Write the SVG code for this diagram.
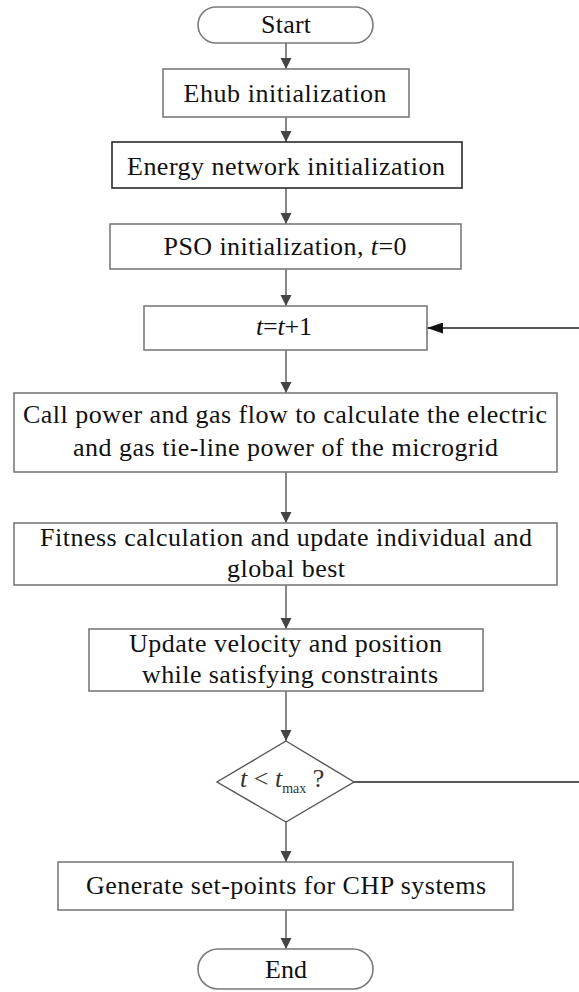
<svg xmlns="http://www.w3.org/2000/svg" width="579" height="992" viewBox="0 0 579 992">
<style>
.box{fill:#fff;stroke:#7a7a7a;stroke-width:1.6}
.dark{stroke:#2a2a2a}
.t{font-family:"Liberation Serif","Times New Roman",serif;font-size:26px;fill:#111;text-anchor:middle}
.c{fill:none;stroke:#555;stroke-width:1.4}
.loop{fill:none;stroke:#222;stroke-width:1.4}
</style>
<defs>
<marker id="ah" markerUnits="userSpaceOnUse" markerWidth="12" markerHeight="12" refX="11" refY="6" orient="auto"><path d="M0,0.5 L11,6 L0,11.5 z" fill="#444"/></marker>
<marker id="ahl" markerUnits="userSpaceOnUse" markerWidth="17" markerHeight="11" refX="16" refY="5.5" orient="auto"><path d="M0,0 L16,5.5 L0,11 z" fill="#111"/></marker>
</defs>
<g id="connectors">
<line class="c" x1="286" y1="43" x2="286" y2="69" marker-end="url(#ah)"/>
<line class="c" x1="286" y1="117" x2="286" y2="142" marker-end="url(#ah)"/>
<line class="c" x1="286" y1="188" x2="286" y2="224" marker-end="url(#ah)"/>
<line class="c" x1="286" y1="269" x2="286" y2="306" marker-end="url(#ah)"/>
<line class="c" x1="286" y1="350" x2="286" y2="393" marker-end="url(#ah)"/>
<line class="c" x1="286" y1="472" x2="286" y2="523" marker-end="url(#ah)"/>
<line class="c" x1="286" y1="585" x2="286" y2="629" marker-end="url(#ah)"/>
<line class="c" x1="286" y1="691" x2="286" y2="741" marker-end="url(#ah)"/>
<line class="c" x1="286" y1="822" x2="286" y2="862" marker-end="url(#ah)"/>
<line class="c" x1="286" y1="910" x2="286" y2="949" marker-end="url(#ah)"/>
<path class="loop" d="M354,782 H584 V328 H427" marker-end="url(#ahl)"/>
</g>
<g id="start">
<rect class="box" x="198" y="7" width="175" height="36" rx="18"/>
<text class="t" x="286" y="33" textLength="50" lengthAdjust="spacing">Start</text>
</g>
<g id="ehub">
<rect class="box" x="163" y="69" width="246" height="48"/>
<text class="t" x="285" y="102" textLength="203" lengthAdjust="spacing">Ehub initialization</text>
</g>
<g id="energy">
<rect class="box dark" x="112" y="142" width="350" height="46"/>
<text class="t" x="286" y="175" textLength="318" lengthAdjust="spacing">Energy network initialization</text>
</g>
<g id="pso">
<rect class="box" x="110" y="224" width="351" height="45"/>
<text class="t" x="285" y="255" textLength="243" lengthAdjust="spacing">PSO initialization, <tspan font-style="italic">t</tspan>=0</text>
</g>
<g id="incr">
<rect class="box" x="144" y="306" width="283" height="44"/>
<text class="t" x="284" y="335" textLength="56" lengthAdjust="spacing"><tspan font-style="italic">t</tspan>=<tspan font-style="italic">t</tspan>+1</text>
</g>
<g id="flow">
<rect class="box" x="14" y="393" width="543" height="79"/>
<text class="t" x="285" y="423" textLength="524" lengthAdjust="spacing">Call power and gas flow to calculate the electric</text>
<text class="t" x="285.5" y="456" textLength="425" lengthAdjust="spacing">and gas tie-line power of the microgrid</text>
</g>
<g id="fitness">
<rect class="box" x="14" y="523" width="543" height="62"/>
<text class="t" x="286" y="546" textLength="492" lengthAdjust="spacing">Fitness calculation and update individual and</text>
<text class="t" x="286" y="577" textLength="118" lengthAdjust="spacing">global best</text>
</g>
<g id="update">
<rect class="box" x="89" y="629" width="394" height="62"/>
<text class="t" x="285.5" y="652" textLength="313" lengthAdjust="spacing">Update velocity and position</text>
<text class="t" x="290" y="683" textLength="296" lengthAdjust="spacing">while satisfying constraints</text>
</g>
<g id="decision">
<polygon points="286,741 354,782 286,822 217,782" fill="#fff" stroke="#555" stroke-width="1.4"/>
<text x="240" y="787" font-family="Liberation Serif, Times New Roman, serif" font-size="26" fill="#333"><tspan font-style="italic">t</tspan> &lt; <tspan font-style="italic">t</tspan><tspan font-size="14" dy="6">max</tspan><tspan dy="-6"> ?</tspan></text>
</g>
<g id="generate">
<rect class="box" x="58" y="862" width="455" height="48"/>
<text class="t" x="286" y="894" textLength="400" lengthAdjust="spacing">Generate set-points for CHP systems</text>
</g>
<g id="end">
<rect class="box" x="198" y="949" width="175" height="40" rx="20"/>
<text class="t" x="286" y="978">End</text>
</g>
</svg>
